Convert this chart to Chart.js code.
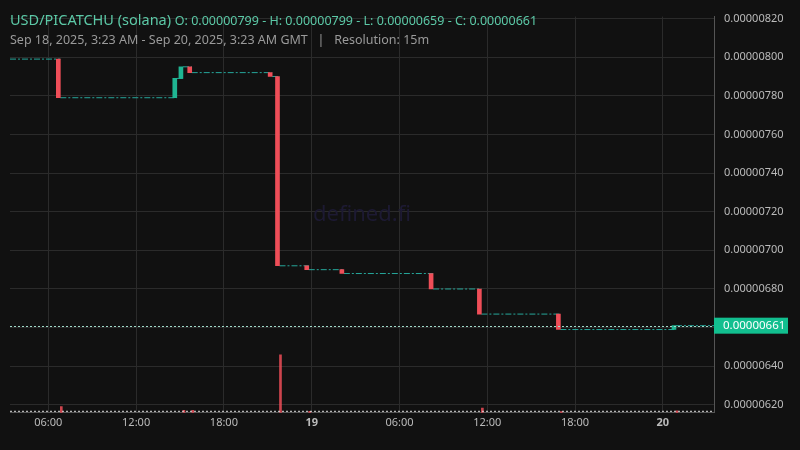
<!DOCTYPE html><html><head><meta charset="utf-8">
<script src="https://cdn.jsdelivr.net/npm/chart.js@4/dist/chart.umd.min.js"></script>
<style>
body{margin:0;background:#111111;font-family:"Noto Sans","Open Sans",sans-serif;}
#wrap{position:relative;width:800px;height:450px;}
#h1{position:absolute;left:10px;top:9px;color:#5cc9a7;font-size:14.5px;white-space:nowrap;}
#h1 span{font-size:12.5px;}
#h2{position:absolute;left:10px;top:31px;color:#9a9a9a;font-size:12.5px;white-space:nowrap;}
</style></head><body>
<div id="wrap"><canvas id="c" width="800" height="450"></canvas>
<div id="h1">USD/PICATCHU (solana) <span>O: 0.00000799 - H: 0.00000799 - L: 0.00000659 - C: 0.00000661</span></div>
<div id="h2">Sep 18, 2025, 3:23 AM - Sep 20, 2025, 3:23 AM GMT &nbsp; | &nbsp; Resolution: 15m</div>
</div>
<script>
// hours since Sep 18 00:00 GMT; prices in 1e-6 units
const candleHours = [6.82, 14.78, 15.2, 15.8, 21.3, 21.8, 23.8, 26.2, 32.3, 35.6, 41.0, 48.9];
const candleOpen  = [7.99, 7.79, 7.89, 7.95, 7.92, 7.90, 6.92, 6.90, 6.88, 6.80, 6.67, 6.59];
const candleClose = [7.79, 7.89, 7.95, 7.92, 7.90, 6.92, 6.90, 6.88, 6.80, 6.67, 6.59, 6.61];
const volHours = [6.82, 15.2, 15.8, 21.8, 23.8, 35.6, 41.0, 48.9];
const volValues = [1.6, 0.6, 0.6, 14.6, 0.4, 1.2, 0.3, 0.5];
const xTickHours = [6, 12, 18, 24, 30, 36, 42, 48];
const xTickLabels = ["06:00", "12:00", "18:00", "19", "06:00", "12:00", "18:00", "20"];
const yTicks = [6.2, 6.4, 6.6, 6.8, 7.0, 7.2, 7.4, 7.6, 7.8, 8.0, 8.2];
const startH = 3.38, endH = 51.5, lastPrice = 6.61;

const up = '#1fb592', down = '#ef4e58';
const flat = [{x:startH,y:candleOpen[0]}];
candleHours.forEach((h,i)=>{flat.push({x:h,y:candleOpen[i]});flat.push({x:h,y:null});flat.push({x:h,y:candleClose[i]});});
flat.push({x:endH,y:lastPrice});
const bodies = candleHours.map((h,i)=>({x:h,y:[candleOpen[i],candleClose[i]]}));
const bodyColors = candleHours.map((h,i)=>candleClose[i]>=candleOpen[i]?up:down);
const fmt = v => (v/1e6).toFixed(8);

const overlay = {id:'ov',
 beforeDatasetsDraw(ch){const c=ch.ctx,a=ch.chartArea;c.save();
  c.font='22px "Noto Sans"';c.fillStyle='#1d1a33';c.textAlign='center';c.textBaseline='middle';
  c.fillText('defined.fi',(a.left+a.right)/2,(a.top+a.bottom)/2);c.restore();},
 afterDatasetsDraw(ch){const c=ch.ctx,a=ch.chartArea,y=ch.scales.y.getPixelForValue(lastPrice);
  c.save();c.strokeStyle='#9fd9c8';c.lineWidth=1;c.setLineDash([2,2]);
  c.beginPath();c.moveTo(a.left,Math.round(y)+0.5);c.lineTo(a.right,Math.round(y)+0.5);c.stroke();
  c.strokeStyle='#dddddd';
  c.beginPath();c.moveTo(a.left,a.bottom-1.5);c.lineTo(a.right,a.bottom-1.5);c.stroke();
  c.setLineDash([]);c.fillStyle='#12bf8f';c.fillRect(a.right,y-8,74,16);
  c.fillStyle='#ffffff';c.font='11.5px "Noto Sans"';c.textBaseline='middle';c.textAlign='left';
  c.fillText(fmt(lastPrice),a.right+9,y+0.5);c.restore();}};

new Chart(document.getElementById('c'),{
 data:{datasets:[
  {type:'line',data:flat,borderColor:'#26a69a',borderWidth:1,borderDash:[6,2,2,2],pointRadius:0,spanGaps:false,yAxisID:'y',order:2},
  {type:'bar',data:bodies,backgroundColor:bodyColors,barThickness:4,minBarLength:3,yAxisID:'y',order:1},
  {type:'bar',data:volHours.map((h,i)=>({x:h,y:volValues[i]})),backgroundColor:'rgba(239,78,88,0.85)',barThickness:2,yAxisID:'v',order:3}
 ]},
 options:{animation:false,responsive:false,maintainAspectRatio:false,
  layout:{padding:{top:2,left:10,right:0,bottom:18}},
  plugins:{legend:{display:false},tooltip:{enabled:false}},
  scales:{
   x:{type:'linear',min:startH,max:endH,offset:false,
    afterBuildTicks(s){s.ticks=xTickHours.map(v=>({value:v}));},
    ticks:{color:'#bbbbbb',font:(ctx)=>({size:11,family:'Noto Sans',weight:(ctx.tick&&(ctx.tick.value%24===0))?'bold':'normal'}),maxRotation:0,autoSkip:false,
     callback:(v)=>xTickLabels[xTickHours.indexOf(v)]},
    grid:{color:'#2b2b2b',drawTicks:false,offset:false},border:{color:'#555'}},
   y:{position:'right',min:6.159,max:8.21,
    afterBuildTicks(s){s.ticks=yTicks.map(v=>({value:v}));},
    afterFit(s){s.width=86;},
    ticks:{color:'#bbbbbb',font:{size:11,family:'Noto Sans'},padding:10,callback:fmt},
    grid:{color:'#2b2b2b',drawTicks:false},border:{color:'#555'}},
   v:{display:false,min:0,max:100}
  }},
 plugins:[overlay]});
</script></body></html>
